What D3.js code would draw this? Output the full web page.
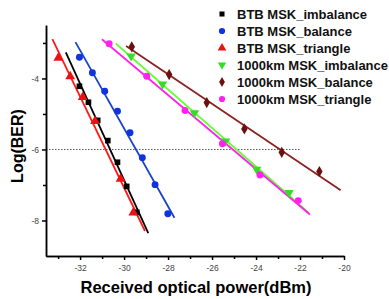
<!DOCTYPE html>
<html lang="en">
<head>
<meta charset="utf-8">
<title>BER vs received power</title>
<script src="https://cdn.jsdelivr.net/npm/d3@7/dist/d3.min.js"></script>
<style>
  body { margin: 0; background: #fff; }
  svg { display: block; font-family: "Liberation Sans", Arial, sans-serif; }
  .tick text { fill: #444; font-size: 8.5px; }
  .domain, .tick line { stroke: #000; stroke-width: 1.5; }
</style>
</head>
<body>
<script>
var btbImbX = [-32.03, -31.62, -31.20, -30.74, -30.30, -29.88, -29.42];
var btbImbY = [-4.22, -4.67, -5.18, -5.75, -6.36, -7.04, -7.77];
var btbBalX = [-32.03, -31.44, -30.88, -30.30, -29.73, -29.17, -28.59, -28.01];
var btbBalY = [-3.40, -3.84, -4.36, -4.92, -5.53, -6.23, -6.99, -7.81];
var btbTriX = [-32.99, -32.45, -31.88, -31.32, -30.16, -29.58];
var btbTriY = [-3.42, -3.94, -4.53, -5.20, -6.83, -7.78];
var kmImbX = [-29.68, -28.25, -26.80, -25.39, -23.97, -22.50];
var kmImbY = [-3.37, -4.16, -4.97, -5.77, -6.56, -7.22];
var kmBalX = [-29.65, -27.95, -26.24, -24.53, -22.83, -21.12];
var kmBalY = [-3.11, -3.89, -4.68, -5.42, -6.08, -6.62];
var kmTriX = [-30.68, -28.97, -27.23, -25.53, -23.82, -22.08];
var kmTriY = [-3.02, -3.94, -4.90, -5.84, -6.72, -7.44];

// x span over which each linear fit is drawn
var fitRanges = [[-32.65, -28.90], [-32.21, -27.71], [-33.26, -29.05],
                 [-30.38, -21.62], [-29.91, -20.15], [-31.01, -21.55]];

var names = ["BTB MSK_imbalance", "BTB MSK_balance", "BTB MSK_triangle",
             "1000km MSK_imbalance", "1000km MSK_balance", "1000km MSK_triangle"];

var xMajor = [-32, -30, -28, -26, -24, -22, -20];
var xMinor = [-33, -31, -29, -27, -25, -23, -21];
var yMajor = [-8, -6, -4];
var yMinor = [-7, -5, -3];
var thresholdBER = -6;

var series = [
  {x: btbImbX, y: btbImbY, color: "#000000", line: "#000000", shape: d3.symbolSquare, size: 32, rot: 0},
  {x: btbBalX, y: btbBalY, color: "#1133dd", line: "#1a44c8", shape: d3.symbolCircle, size: 38, rot: 0},
  {x: btbTriX, y: btbTriY, color: "#ee1111", line: "#ff1a1a", shape: d3.symbolTriangle, size: 42, rot: 0},
  {x: kmImbX, y: kmImbY, color: "#33dd22", line: "#66ff33", shape: d3.symbolTriangle, size: 38, rot: 180},
  {x: kmBalX, y: kmBalY, color: "#6b1010", line: "#8b2222", shape: d3.symbolDiamond, size: 36, rot: 0},
  {x: kmTriX, y: kmTriY, color: "#ff22ee", line: "#ff22ee", shape: d3.symbolCircle, size: 38, rot: 0}
];
series.forEach(function(s, i) { s.name = names[i]; s.range = fitRanges[i]; });

var W = 389, H = 299;
var x = d3.scaleLinear().domain([-33.55, -20]).range([46, 344]);
var y = d3.scaleLinear().domain([-9, -2.5]).range([256, 25.2]);
var fmt = function(v) { return String(v); };

var svg = d3.select("body").append("svg").attr("width", W).attr("height", H);

// least squares fit
function fit(xs, ys) {
  var mx = d3.mean(xs), my = d3.mean(ys), sxy = 0, sxx = 0;
  for (var i = 0; i < xs.length; i++) {
    sxy += (xs[i] - mx) * (ys[i] - my);
    sxx += (xs[i] - mx) * (xs[i] - mx);
  }
  var b = sxy / sxx;
  return function(v) { return my + b * (v - mx); };
}

// threshold line
svg.append("line")
  .attr("x1", x.range()[0]).attr("x2", x(-22))
  .attr("y1", y(thresholdBER)).attr("y2", y(thresholdBER))
  .attr("stroke", "#555").attr("stroke-width", 1)
  .attr("stroke-dasharray", "1.5,1.5");

// fit lines
series.forEach(function(s) {
  var f = fit(s.x, s.y);
  svg.append("line")
    .attr("x1", x(s.range[0])).attr("y1", y(f(s.range[0])))
    .attr("x2", x(s.range[1])).attr("y2", y(f(s.range[1])))
    .attr("stroke", s.line).attr("stroke-width", 1.8);
});

// markers
series.forEach(function(s) {
  svg.append("g").selectAll("path")
    .data(s.x.map(function(v, i) { return [v, s.y[i]]; }))
    .enter().append("path")
    .attr("d", d3.symbol().type(s.shape).size(s.size))
    .attr("transform", function(d) {
      return "translate(" + x(d[0]) + "," + y(d[1]) + ") rotate(" + s.rot + ")";
    })
    .attr("fill", s.color);
});

// axes
svg.append("g").attr("transform", "translate(0,256)")
  .call(d3.axisBottom(x).tickValues(xMinor).tickSize(3).tickSizeOuter(0).tickFormat(""));
svg.append("g").attr("transform", "translate(0,256)")
  .call(d3.axisBottom(x).tickValues(xMajor).tickSize(4).tickSizeOuter(0).tickPadding(5).tickFormat(fmt));
svg.append("g").attr("transform", "translate(46,0)")
  .call(d3.axisLeft(y).tickValues(yMinor).tickSize(3).tickSizeOuter(0).tickFormat(""));
svg.append("g").attr("transform", "translate(46,0)")
  .call(d3.axisLeft(y).tickValues(yMajor).tickSize(4).tickSizeOuter(0).tickPadding(3).tickFormat(fmt));

// axis titles
svg.append("text")
  .attr("x", 196).attr("y", 293)
  .attr("text-anchor", "middle")
  .attr("font-weight", "bold").attr("font-size", "16.5px")
  .text("Received optical power(dBm)");
svg.append("text")
  .attr("transform", "translate(23,146) rotate(-90)")
  .attr("text-anchor", "middle")
  .attr("font-weight", "bold").attr("font-size", "16px")
  .text("Log(BER)");

// legend
var leg = svg.append("g").selectAll("g")
  .data(series).enter().append("g")
  .attr("transform", function(d, i) { return "translate(222," + (14 + i * 17) + ")"; });
leg.append("path")
  .attr("d", function(d) { return d3.symbol().type(d.shape).size(d.size * 0.8)(); })
  .attr("transform", function(d) { return "rotate(" + d.rot + ")"; })
  .attr("fill", function(d) { return d.color; });
leg.append("text")
  .attr("x", 15).attr("dy", "0.36em")
  .attr("font-weight", "bold").attr("font-size", "13px")
  .attr("fill", "#111")
  .text(function(d) { return d.name; });
</script>
</body>
</html>
